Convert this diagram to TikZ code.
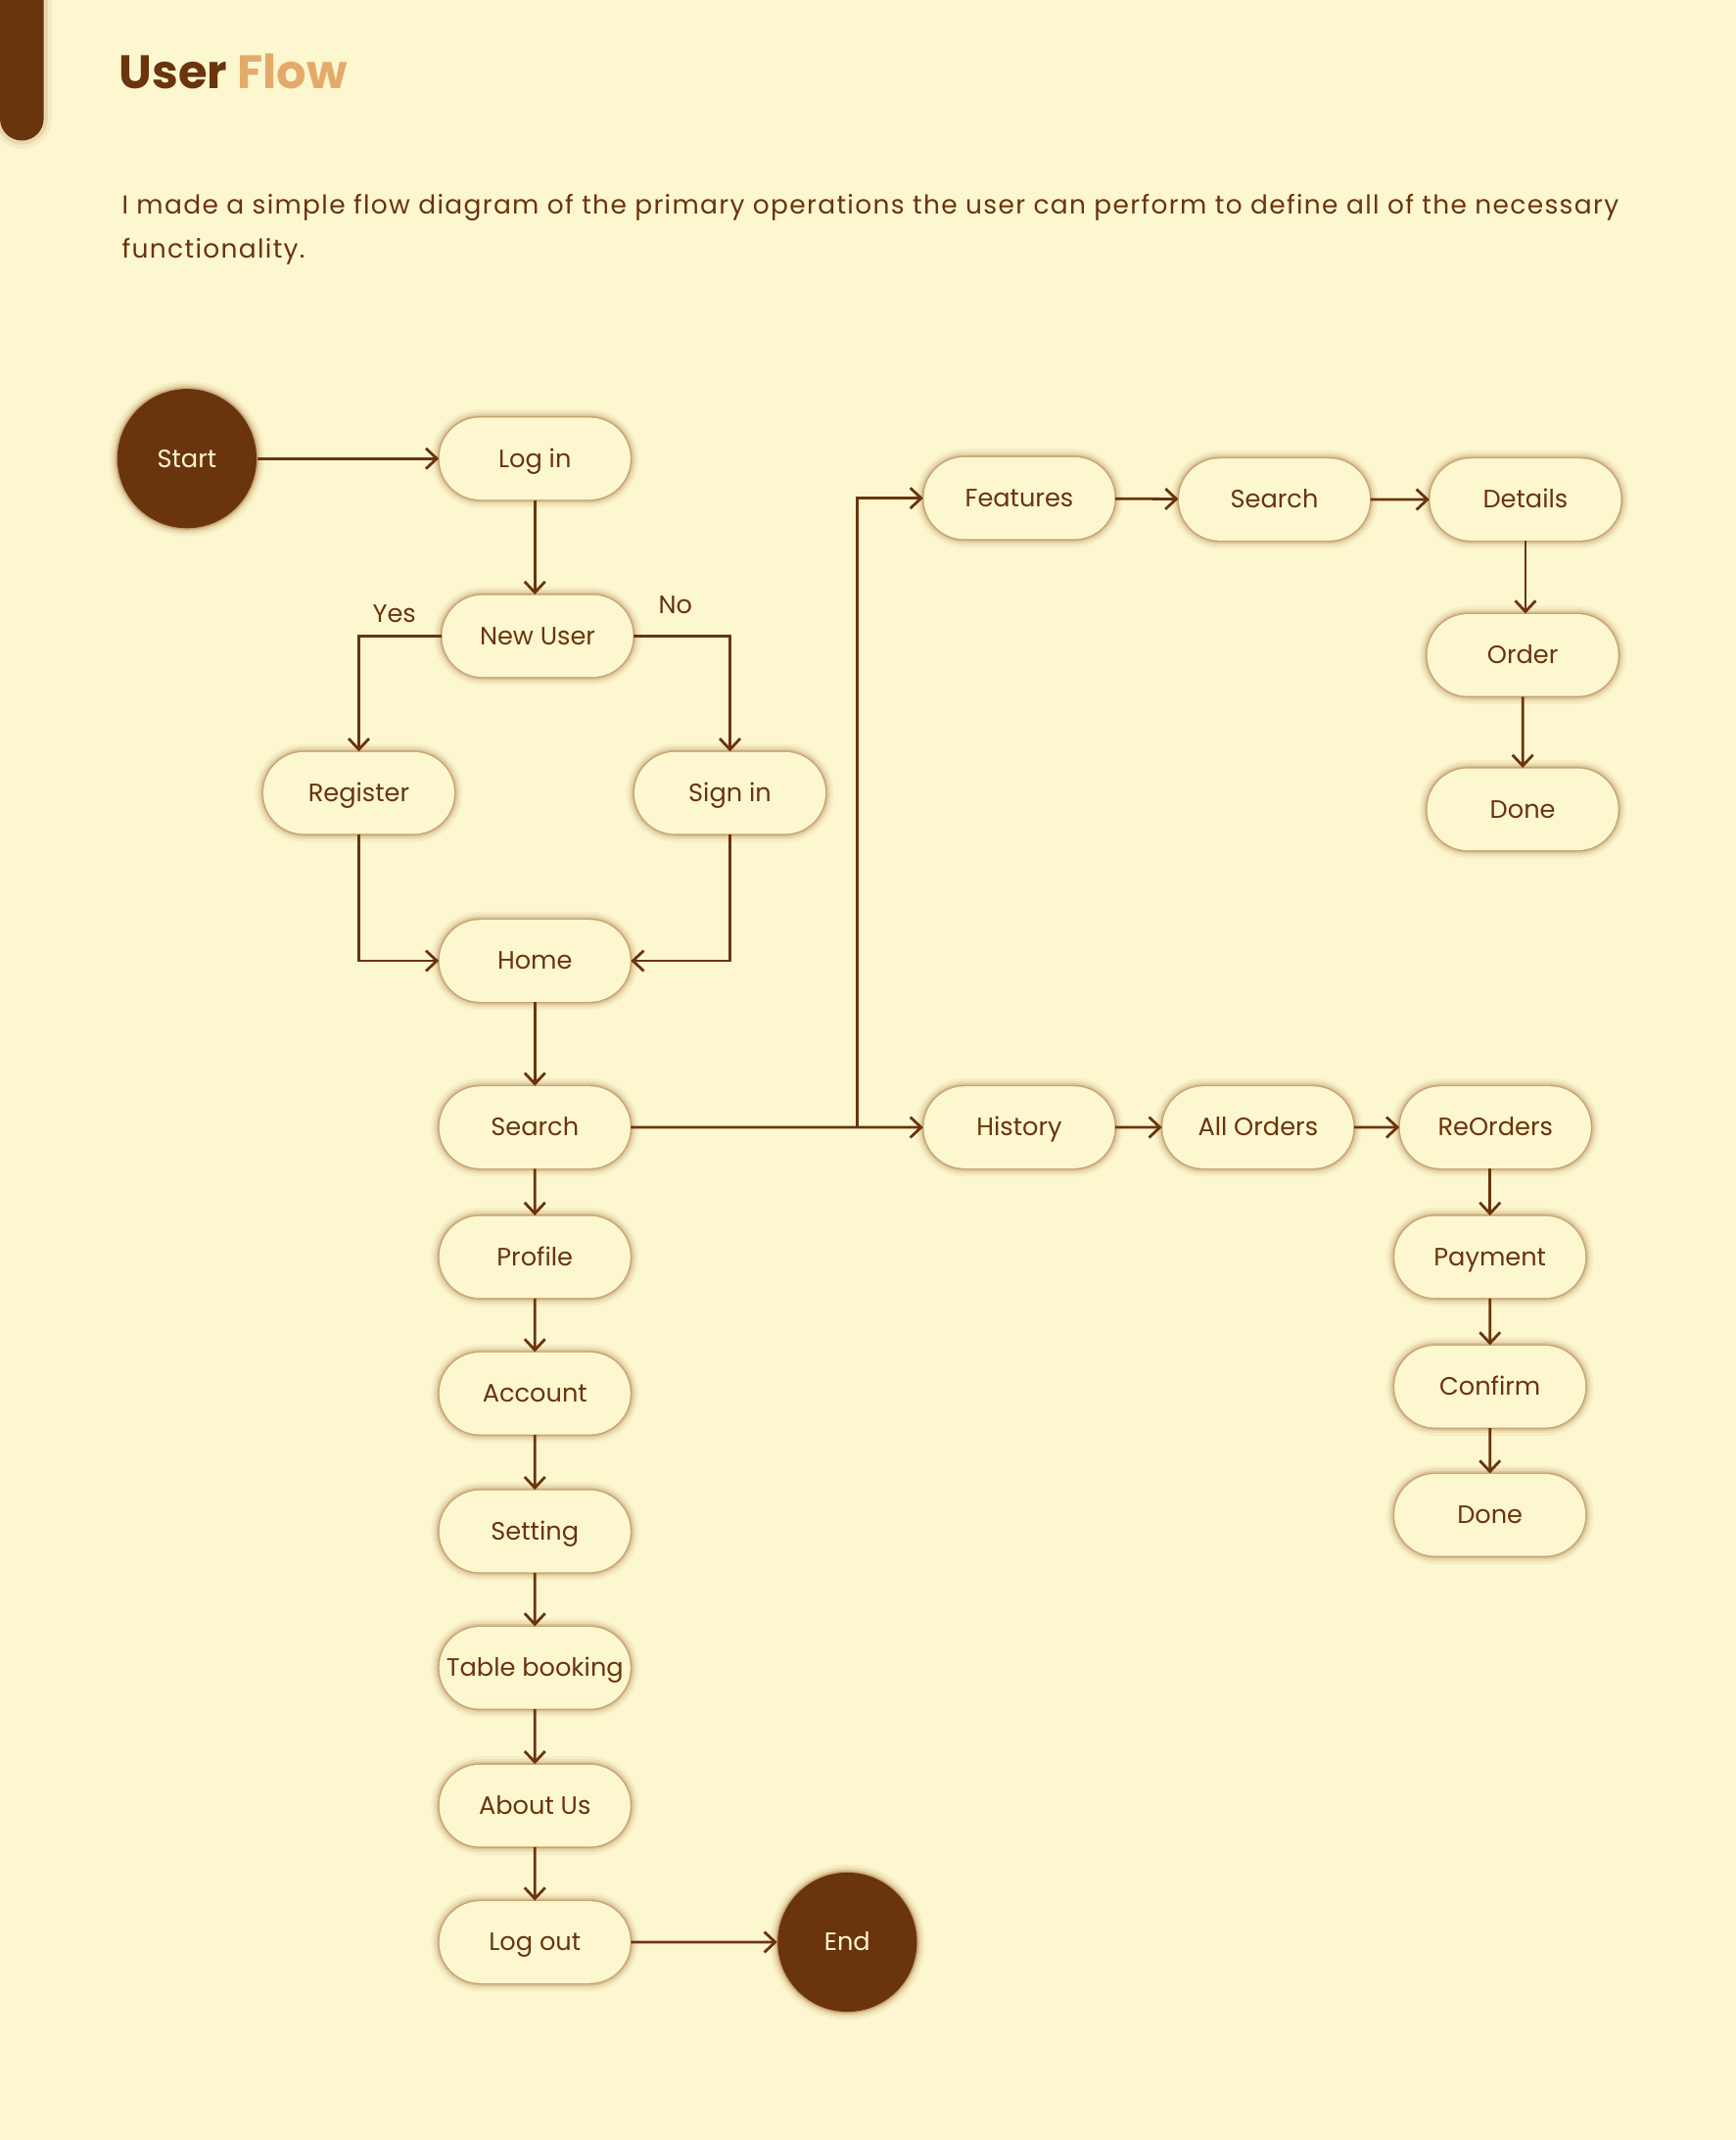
\documentclass[tikz,border=0pt]{standalone}
\usepackage{fontspec}
\setmainfont{Poppins}
\newfontfamily\parafont[LetterSpace=5]{Poppins}
\usetikzlibrary{shapes.misc,arrows.meta}
\definecolor{bg}{RGB}{253,247,208}
\definecolor{brn}{RGB}{106,52,12}
\definecolor{flowc}{RGB}{228,170,106}
\definecolor{glow}{RGB}{165,112,55}
\tikzset{
  glowfx/.style={
    preaction={draw=glow, line width=6pt, draw opacity=0.07},
    preaction={draw=glow, line width=4pt, draw opacity=0.12},
    preaction={draw=glow, line width=2.2pt, draw opacity=0.22},
    preaction={draw=glow, line width=1pt, draw opacity=0.40}},
  pill/.style={rounded rectangle, minimum width=70pt, minimum height=30pt,
    inner sep=0pt, text height=6.4pt, text depth=0pt, fill=bg, text=brn,
    font=\fontsize{9.2}{11}\selectfont, glowfx},
  term/.style={circle, minimum size=51pt, inner sep=0pt, text height=6.4pt, text depth=0pt,
    fill=brn, text=bg, font=\fontsize{9.2}{11}\selectfont, glowfx},
  arr/.style={draw=brn, line width=1pt, -{Straight Barb[length=4pt,width=7.5pt]}},
  lbl/.style={text=brn, font=\fontsize{9.2}{11}\selectfont, inner sep=0pt}
}
\begin{document}
\begin{tikzpicture}[x=0.5pt,y=-0.5pt]
\fill[bg] (0,0) rectangle (1272,1568);
\useasboundingbox (0,0) rectangle (1272,1568);
% left bar
\path[fill=brn, rounded corners=8pt,
  preaction={draw=glow, line width=6pt, draw opacity=0.08},
  preaction={draw=glow, line width=3pt, draw opacity=0.15}] (0,-40) rectangle (32,103);
% title
\node[anchor=base west, inner sep=0pt, font=\fontsize{17.2}{21}\selectfont\bfseries] (title) at (87,65)
  {\textcolor{brn}{User} \textcolor{flowc}{Flow}};
\node[anchor=base west, inner sep=0pt, text=brn, font=\parafont\fontsize{9.5}{11}\selectfont] (p1) at (89,157)
  {I made a simple flow diagram of the primary operations the user can perform to define all of the necessary};
\node[anchor=base west, inner sep=0pt, text=brn, font=\parafont\fontsize{9.5}{11}\selectfont] (p2) at (89,189)
  {functionality.};
% nodes
\node[term] (start) at (137,336) {Start};
\node[pill] (login) at (392,336) {Log in};
\node[pill] (newuser) at (394,466) {New User};
\node[pill] (register) at (263,581) {Register};
\node[pill] (signin) at (535,581) {Sign in};
\node[pill] (home) at (392,704) {Home};
\node[pill] (search) at (392,826) {Search};
\node[pill] (profile) at (392,921) {Profile};
\node[pill] (account) at (392,1021) {Account};
\node[pill] (setting) at (392,1122) {Setting};
\node[pill] (table) at (392,1222) {Table booking};
\node[pill] (about) at (392,1323) {About Us};
\node[pill] (logout) at (392,1423) {Log out};
\node[term] (end) at (621,1423) {End};
\node[pill] (features) at (747,365) {Features};
\node[pill] (searchb) at (934,366) {Search};
\node[pill] (details) at (1118,366) {Details};
\node[pill] (order) at (1116,480) {Order};
\node[pill] (done1) at (1116,593) {Done};
\node[pill] (history) at (747,826) {History};
\node[pill] (allorders) at (922,826) {All Orders};
\node[pill] (reorders) at (1096,826) {ReOrders};
\node[pill] (payment) at (1092,921) {Payment};
\node[pill] (confirm) at (1092,1016) {Confirm};
\node[pill] (done2) at (1092,1110) {Done};
\node[lbl] (yes) at (289,450) {Yes};
\node[lbl] (no) at (495,443) {No};
\coordinate (br) at (628,826);
% connectors
\draw[arr] (start) -- (login);
\draw[arr] (login.south) -- (login.south |- newuser.north);
\draw[arr] (newuser.west) -| (register.north);
\draw[arr] (newuser.east) -| (signin.north);
\draw[arr] (register.south) |- (home.west);
\draw[arr] (signin.south) |- (home.east);
\draw[arr] (home.south) -- (home.south |- search.north);
\draw[arr] (search) -- (history);
\draw[arr] (search.east) -- (br) |- (features.west);
\draw[arr] (features) -- (searchb);
\draw[arr] (searchb) -- (details);
\draw[arr] (details.south) -- (details.south |- order.north);
\draw[arr] (order) -- (done1);
\draw[arr] (history) -- (allorders);
\draw[arr] (allorders) -- (reorders);
\draw[arr] (reorders.south -| payment) -- (payment.north);
\draw[arr] (payment) -- (confirm);
\draw[arr] (confirm) -- (done2);
\draw[arr] (search) -- (profile);
\draw[arr] (profile) -- (account);
\draw[arr] (account) -- (setting);
\draw[arr] (setting) -- (table);
\draw[arr] (table) -- (about);
\draw[arr] (about) -- (logout);
\draw[arr] (logout) -- (end);
\end{tikzpicture}
\end{document}
